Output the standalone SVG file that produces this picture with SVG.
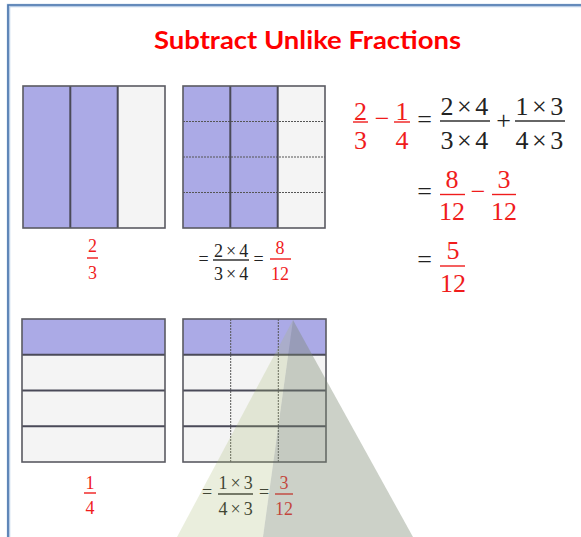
<svg xmlns="http://www.w3.org/2000/svg" width="581" height="537" viewBox="0 0 581 537">
<style>
.pur{fill:#abaae6}
.gry{fill:#f4f4f4}
.out{fill:none;stroke:#5a5a62;stroke-width:1.6}
.div{stroke:#4a4a58;stroke-width:2}
.dash{stroke:#555;stroke-width:1;stroke-dasharray:2 1}
.r{fill:#f01c1c}
.k{fill:#222}
.rb{stroke:#f01c1c;stroke-width:1.4}
.kb{stroke:#333;stroke-width:1.3}
</style>
<rect width="581" height="537" fill="#ffffff"/>
<g id="frame">
<path d="M8.5,537 V5.5 H581" fill="none" stroke="#b9cde6" stroke-width="3.5"/>
<path d="M8,537 V5 H581" fill="none" stroke="#4a76ad" stroke-width="1.6"/>
</g>
<g id="title">
<text x="307.5" y="49" text-anchor="middle" font-family="Lato,'Liberation Sans',sans-serif" font-weight="bold" font-size="25" fill="#ff0000" textLength="307" lengthAdjust="spacingAndGlyphs">Subtract Unlike Fractions</text>
</g>
<g id="box-two-thirds">
<rect x="23" y="86" width="94.7" height="142" class="pur"/>
<rect x="117.7" y="86" width="47.3" height="142" class="gry"/>
<line x1="70.3" y1="86" x2="70.3" y2="228" class="div"/>
<line x1="117.7" y1="86" x2="117.7" y2="228" class="div"/>
<rect x="23" y="86" width="142" height="142" class="out"/>
</g>
<g id="box-eight-twelfths">
<rect x="183" y="86" width="94.7" height="142" class="pur"/>
<rect x="277.7" y="86" width="47.3" height="142" class="gry"/>
<line x1="183" y1="121.5" x2="325" y2="121.5" class="dash"/>
<line x1="183" y1="157" x2="325" y2="157" class="dash"/>
<line x1="183" y1="192.5" x2="325" y2="192.5" class="dash"/>
<line x1="230.3" y1="86" x2="230.3" y2="228" class="div"/>
<line x1="277.7" y1="86" x2="277.7" y2="228" class="div"/>
<rect x="183" y="86" width="142" height="142" class="out"/>
</g>
<g id="box-one-quarter">
<rect x="22" y="319" width="143" height="35.75" class="pur"/>
<rect x="22" y="354.75" width="143" height="107.25" class="gry"/>
<line x1="22" y1="354.75" x2="165" y2="354.75" class="div"/>
<line x1="22" y1="390.5" x2="165" y2="390.5" class="div"/>
<line x1="22" y1="426.25" x2="165" y2="426.25" class="div"/>
<rect x="22" y="319" width="143" height="143" class="out"/>
</g>
<g id="box-three-twelfths">
<rect x="183" y="319" width="143" height="35.75" class="pur"/>
<rect x="183" y="354.75" width="143" height="107.25" class="gry"/>
<line x1="230.7" y1="319" x2="230.7" y2="462" class="dash"/>
<line x1="278.3" y1="319" x2="278.3" y2="462" class="dash"/>
<line x1="183" y1="354.75" x2="326" y2="354.75" class="div"/>
<line x1="183" y1="390.5" x2="326" y2="390.5" class="div"/>
<line x1="183" y1="426.25" x2="326" y2="426.25" class="div"/>
<rect x="183" y="319" width="143" height="143" class="out"/>
</g>
<g id="label-two-thirds" font-family="'Liberation Serif','DejaVu Serif',serif" font-size="18">
<text x="92.5" y="251.5" text-anchor="middle" class="r">2</text>
<line x1="87" y1="258" x2="98" y2="258" class="rb"/>
<text x="92.5" y="279" text-anchor="middle" class="r">3</text>
</g>
<g id="label-eight-twelfths" font-family="'Liberation Serif','DejaVu Serif',serif" font-size="18">
<text x="203.5" y="264.5" text-anchor="middle" class="k">=</text>
<text x="214" y="257" letter-spacing="3" class="k">2×4</text>
<line x1="213" y1="260" x2="249" y2="260" class="kb"/>
<text x="214" y="280" letter-spacing="3" class="k">3×4</text>
<text x="258.5" y="264.5" text-anchor="middle" class="k">=</text>
<text x="280" y="253.5" text-anchor="middle" class="r">8</text>
<line x1="270" y1="259" x2="291" y2="259" class="rb"/>
<text x="280" y="280" text-anchor="middle" class="r">12</text>
</g>
<g id="label-one-quarter" font-family="'Liberation Serif','DejaVu Serif',serif" font-size="18">
<text x="90" y="488.5" text-anchor="middle" class="r">1</text>
<line x1="84" y1="493" x2="96" y2="493" class="rb"/>
<text x="90" y="513.5" text-anchor="middle" class="r">4</text>
</g>
<g id="label-three-twelfths" font-family="'Liberation Serif','DejaVu Serif',serif" font-size="18">
<text x="207" y="498" text-anchor="middle" class="k">=</text>
<text x="218.5" y="489" letter-spacing="3" class="k">1×3</text>
<line x1="218" y1="494" x2="253" y2="494" class="kb"/>
<text x="218.5" y="515" letter-spacing="3" class="k">4×3</text>
<text x="264" y="498" text-anchor="middle" class="k">=</text>
<text x="284" y="489" text-anchor="middle" class="r">3</text>
<line x1="275" y1="494" x2="293" y2="494" class="rb"/>
<text x="284" y="515" text-anchor="middle" class="r">12</text>
</g>
<g id="equation" font-family="'Liberation Serif','DejaVu Serif',serif" font-size="26">
<text x="360.5" y="119.5" text-anchor="middle" class="r">2</text>
<line x1="353" y1="122" x2="368" y2="122" class="rb" stroke-width="1.6"/>
<text x="360.5" y="148.5" text-anchor="middle" class="r">3</text>
<text x="382" y="127" text-anchor="middle" class="r">−</text>
<text x="402" y="119.5" text-anchor="middle" class="r">1</text>
<line x1="394" y1="122" x2="410" y2="122" class="rb" stroke-width="1.6"/>
<text x="402" y="148.5" text-anchor="middle" class="r">4</text>
<text x="424.5" y="127.5" text-anchor="middle" class="k">=</text>
<text x="440.5" y="115" letter-spacing="3.5" class="k">2×4</text>
<line x1="440" y1="121" x2="490" y2="121" class="kb" stroke-width="1.6"/>
<text x="440.5" y="148.5" letter-spacing="3.5" class="k">3×4</text>
<text x="503.5" y="128.5" text-anchor="middle" class="k">+</text>
<text x="515.5" y="115" letter-spacing="3.5" class="k">1×3</text>
<line x1="515" y1="121" x2="565" y2="121" class="kb" stroke-width="1.6"/>
<text x="515.5" y="148.5" letter-spacing="3.5" class="k">4×3</text>
<text x="424.5" y="200" text-anchor="middle" class="k">=</text>
<text x="452" y="188" text-anchor="middle" class="r">8</text>
<line x1="440" y1="194.5" x2="465" y2="194.5" class="rb" stroke-width="1.6"/>
<text x="452" y="220" text-anchor="middle" class="r">12</text>
<text x="478" y="200" text-anchor="middle" class="r">−</text>
<text x="504" y="188" text-anchor="middle" class="r">3</text>
<line x1="492" y1="194.5" x2="516" y2="194.5" class="rb" stroke-width="1.6"/>
<text x="504" y="220" text-anchor="middle" class="r">12</text>
<text x="424.5" y="268" text-anchor="middle" class="k">=</text>
<text x="453" y="259" text-anchor="middle" class="r">5</text>
<line x1="440" y1="266" x2="465" y2="266" class="rb" stroke-width="1.6"/>
<text x="453" y="291.5" text-anchor="middle" class="r">12</text>
</g>
<g id="watermark">
<polygon points="293,320 177,537 263,537" fill="#a8b870" opacity="0.24"/>
<polygon points="293,320 263,537 413,537" fill="#78876e" opacity="0.38"/>
</g>
</svg>
